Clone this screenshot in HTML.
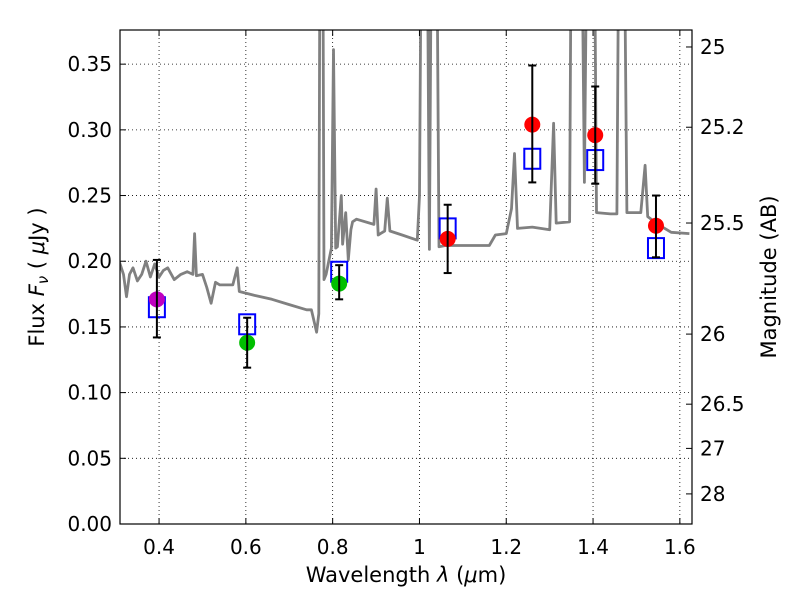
<!DOCTYPE html>
<html><head><meta charset="utf-8"><style>
body{margin:0;background:#fff}
svg text{font-family:"DejaVu Sans","Liberation Sans",sans-serif;fill:#000}
</style></head><body>
<svg id="c" width="800" height="600" xmlns="http://www.w3.org/2000/svg"></svg>
<script>
const specLambda=[0.309,0.318,0.325,0.332,0.34,0.35,0.36,0.37,0.38,0.39,0.40,0.41,0.42,0.435,0.45,0.465,0.478,0.482,0.486,0.50,0.51,0.52,0.53,0.54,0.57,0.58,0.585,0.62,0.66,0.70,0.74,0.751,0.763,0.768,0.772,0.776,0.78,0.785,0.797,0.802,0.807,0.811,0.82,0.823,0.83,0.836,0.842,0.846,0.855,0.895,0.90,0.905,0.92,0.926,0.932,0.96,0.995,1.0,1.007,1.015,1.023,1.03,1.037,1.045,1.06,1.092,1.161,1.175,1.2,1.212,1.219,1.226,1.26,1.30,1.309,1.315,1.346,1.352,1.36,1.37,1.38,1.39,1.40,1.408,1.44,1.455,1.462,1.468,1.478,1.51,1.52,1.526,1.55,1.58,1.622];
const specFlux=[0.199,0.19,0.173,0.19,0.195,0.185,0.19,0.2,0.188,0.198,0.188,0.193,0.195,0.186,0.19,0.192,0.19,0.221,0.189,0.19,0.18,0.168,0.184,0.182,0.182,0.195,0.177,0.174,0.171,0.167,0.163,0.163,0.146,0.16,0.6,0.6,0.186,0.19,0.21,0.361,0.21,0.211,0.25,0.213,0.237,0.201,0.224,0.23,0.232,0.228,0.255,0.22,0.223,0.248,0.223,0.22,0.216,0.25,0.6,0.6,0.209,0.6,0.6,0.211,0.212,0.212,0.212,0.22,0.221,0.24,0.282,0.225,0.226,0.224,0.305,0.229,0.23,0.6,0.6,0.6,0.26,0.6,0.6,0.237,0.236,0.236,0.6,0.6,0.237,0.237,0.273,0.234,0.228,0.222,0.221];
const ptLambda=[0.395,0.603,0.815,1.065,1.26,1.405,1.545];
const ptFlux=[0.171,0.138,0.183,0.217,0.304,0.296,0.227];
const errLow=[0.142,0.119,0.171,0.191,0.260,0.259,0.203];
const errHigh=[0.201,0.157,0.197,0.243,0.349,0.333,0.250];
const ptColors=["#bf00bf","#00bf00","#00bf00","#ff0000","#ff0000","#ff0000","#ff0000"];
const modelFlux=[0.165,0.152,0.192,0.225,0.278,0.277,0.210];
const xTicks=[0.4,0.6,0.8,1.0,1.2,1.4,1.6];
const xTickLabels=["0.4","0.6","0.8","1","1.2","1.4","1.6"];
const yTicks=[0,0.05,0.1,0.15,0.2,0.25,0.3,0.35];
const yTickLabels=["0.00","0.05","0.10","0.15","0.20","0.25","0.30","0.35"];
const magTicks=[25,25.2,25.5,26,26.5,27,28];
const magTickLabels=["25","25.2","25.5","26","26.5","27","28"];

const L=120,R=692,T=30,B=524,X0=0.31,X1=1.628,Y0=0,Y1=0.376;
const sx=v=>L+(v-X0)/(X1-X0)*(R-L);
const sy=v=>B-(v-Y0)/(Y1-Y0)*(B-T);
const svg=document.getElementById('c');
const NS="http://www.w3.org/2000/svg";
function mk(tag,attrs,parent){const e=document.createElementNS(NS,tag);for(const k in attrs)e.setAttribute(k,attrs[k]);(parent||svg).appendChild(e);return e;}

const defs=mk('defs',{});const cp=mk('clipPath',{id:'clip'},defs);mk('rect',{x:L,y:T,width:R-L,height:B-T},cp);

const grid=mk('g',{});


xTicks.forEach(v=>mk('line',{x1:sx(v),x2:sx(v),y1:T,y2:B,stroke:'#000','stroke-width':0.8,'stroke-dasharray':'1,3'},grid));
yTicks.forEach(v=>mk('line',{x1:L,x2:R,y1:sy(v),y2:sy(v),stroke:'#000','stroke-width':0.8,'stroke-dasharray':'1,3'},grid));

let d=specLambda.map((l,i)=>(i?'L':'M')+sx(l).toFixed(1)+','+sy(specFlux[i]).toFixed(1)).join(' ');
const sp=mk('path',{d:d,fill:'none',stroke:'#808080','stroke-width':2.8,'clip-path':'url(#clip)','stroke-linejoin':'round'});



ptLambda.forEach((l,i)=>{const r=mk('rect',{x:sx(l)-8,y:sy(modelFlux[i])-10,width:16,height:20,fill:'none',stroke:'#0000ff','stroke-width':2});

});

ptLambda.forEach((l,i)=>{
 const g=mk('g',{});
 
 
 mk('circle',{cx:sx(l),cy:sy(ptFlux[i]),r:8,fill:ptColors[i]},g);
 const x=sx(l);
 mk('line',{x1:x,x2:x,y1:sy(errLow[i]),y2:sy(errHigh[i]),stroke:'#000','stroke-width':2},g);
 mk('line',{x1:x-4,x2:x+4,y1:sy(errLow[i]),y2:sy(errLow[i]),stroke:'#000','stroke-width':2},g);
 mk('line',{x1:x-4,x2:x+4,y1:sy(errHigh[i]),y2:sy(errHigh[i]),stroke:'#000','stroke-width':2},g);
});

const fr=mk('rect',{x:L,y:T,width:R-L,height:B-T,fill:'none',stroke:'#000','stroke-width':1.2});



xTicks.forEach((v,i)=>{const x=sx(v);
 mk('line',{x1:x,x2:x,y1:B,y2:B-6,stroke:'#000'});mk('line',{x1:x,x2:x,y1:T,y2:T+6,stroke:'#000'});
 const t=mk('text',{x:x,y:B+30,'text-anchor':'middle','font-size':20});t.textContent=xTickLabels[i];
 
 });
yTicks.forEach((v,i)=>{const y=sy(v);
 mk('line',{x1:L,x2:L+6,y1:y,y2:y,stroke:'#000'});
 const t=mk('text',{x:L-8,y:y+7,'text-anchor':'end','font-size':20});t.textContent=yTickLabels[i];
 
 });
magTicks.forEach((m,i)=>{const y=sy(Math.pow(10,(23.9-m)/2.5));
 mk('line',{x1:R,x2:R-6,y1:y,y2:y,stroke:'#000'});
 const t=mk('text',{x:R+8,y:y+7,'font-size':20});t.textContent=magTickLabels[i];
 
 });

const xt=mk('text',{x:406,y:582,'text-anchor':'middle','font-size':21});
xt.innerHTML='Wavelength  <tspan font-style="italic">λ</tspan> (<tspan font-style="italic">μ</tspan>m)';


const yt=mk('text',{x:0,y:0,'text-anchor':'middle','font-size':21,transform:'translate(44,277) rotate(-90)'});
yt.innerHTML='Flux  <tspan font-style="italic">F</tspan><tspan font-style="italic" font-size="15" dy="4">ν</tspan><tspan dy="-4">  ( </tspan><tspan font-style="italic">μ</tspan>Jy )';


const rt=mk('text',{x:0,y:0,'text-anchor':'middle','font-size':21,transform:'translate(776,277) rotate(-90)'});
rt.textContent='Magnitude (AB)';


</script>
</body></html>
